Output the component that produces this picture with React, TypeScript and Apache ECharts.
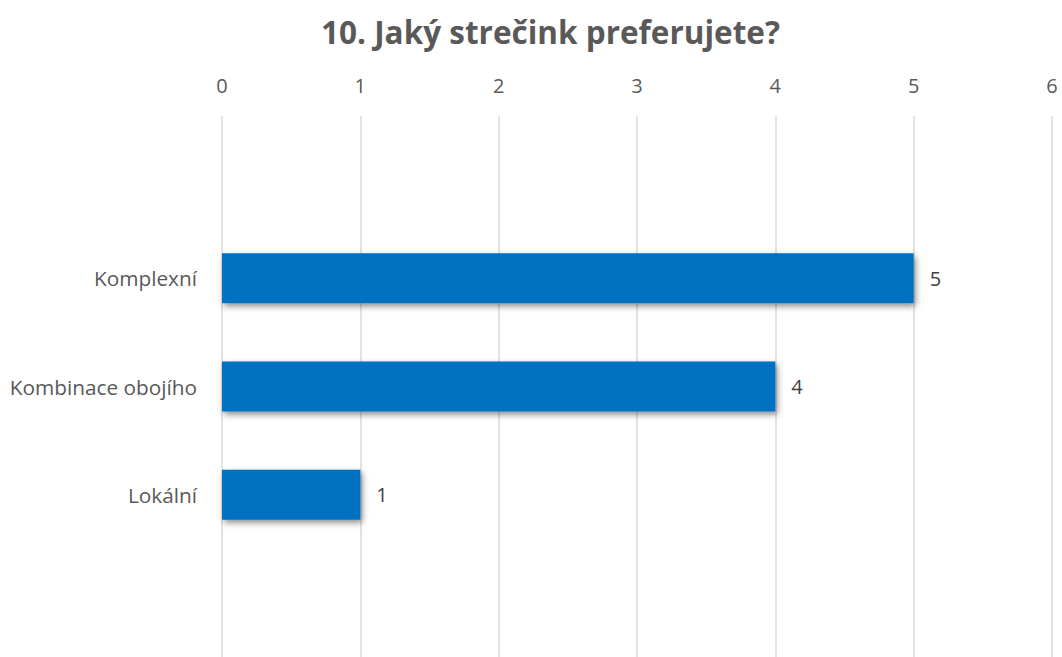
import React, { useEffect, useRef } from "react";
import * as echarts from "echarts";

const categories = ["", "Komplexní", "Kombinace obojího", "Lokální", ""];
const values: (number | null)[] = [null, 5, 4, 1, null];
const axisTicks = [0, 1, 2, 3, 4, 5, 6];
const title = "10. Jaký strečink preferujete?";

export default function App() {
  const ref = useRef<HTMLDivElement>(null);
  useEffect(() => {
    document.body.style.margin = "0";
    const chart = echarts.init(ref.current!, undefined, { renderer: "svg" });
    chart.setOption({
      animation: false,
      backgroundColor: "#ffffff",
      title: {
        text: title,
        left: 316,
        top: 10,
        textStyle: {
          fontFamily: "Open Sans",
          fontSize: 31.5,
          fontWeight: "bold",
          color: "#595959",
        },
      },
      grid: { left: 222, right: 10, top: 116, height: 546, containLabel: false },
      xAxis: {
        type: "value",
        position: "top",
        min: axisTicks[0],
        max: axisTicks[axisTicks.length - 1],
        interval: 1,
        axisLine: { show: false },
        axisTick: { show: false },
        axisLabel: {
          margin: 21,
          fontFamily: "Open Sans",
          fontSize: 20,
          color: "#595959",
        },
        splitLine: { show: true, lineStyle: { color: "#d9d9d9", width: 1.5 } },
      },
      yAxis: {
        type: "category",
        data: categories,
        inverse: true,
        axisLine: { show: false },
        axisTick: { show: false },
        axisLabel: {
          margin: 25,
          fontFamily: "Open Sans",
          fontSize: 20.8,
          color: "#595959",
        },
      },
      series: [
        {
          type: "bar",
          data: values,
          barWidth: 50,
          itemStyle: {
            color: "#0070C0",
            shadowColor: "rgba(0,0,0,0.45)",
            shadowBlur: 6,
            shadowOffsetX: 2,
            shadowOffsetY: 3,
          },
          label: {
            show: true,
            position: "right",
            distance: 16,
            fontFamily: "Open Sans",
            fontSize: 20,
            color: "#404040",
          },
        },
      ],
    });
    return () => chart.dispose();
  }, []);
  return <div ref={ref} style={{ width: 1062, height: 657 }} />;
}
